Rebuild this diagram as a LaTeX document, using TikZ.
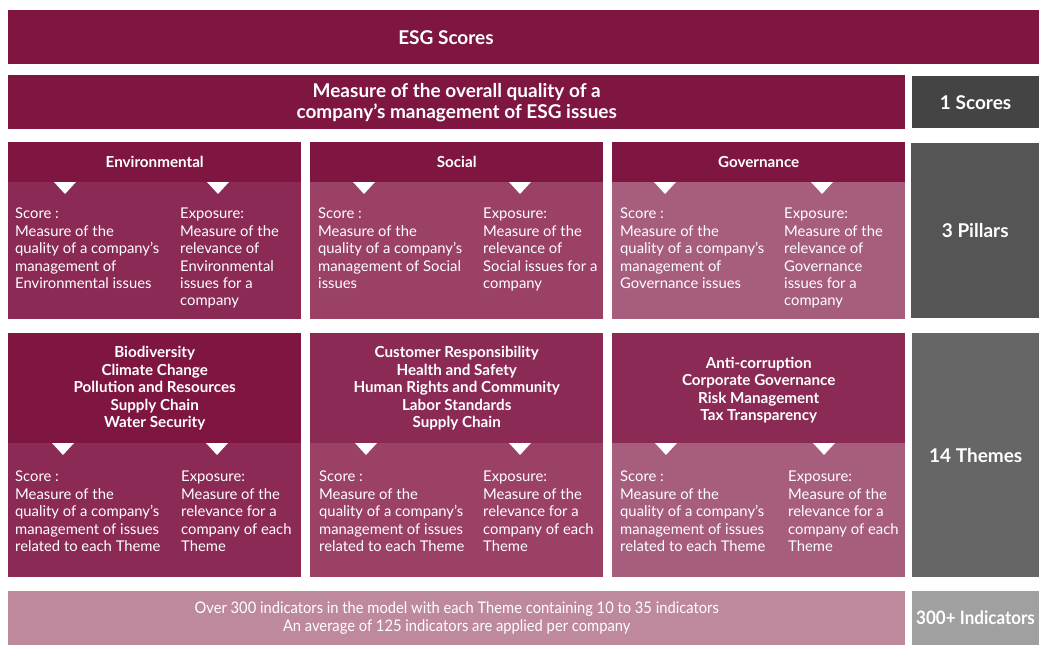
\documentclass[tikz,border=0pt]{standalone}
\usepackage{fontspec}
\setmainfont{Lato}
\newfontfamily\narrowfont[FakeStretch=0.92]{Lato}
\usetikzlibrary{positioning}
\definecolor{esgred}{HTML}{7F1642}
\definecolor{tintA}{HTML}{8B2A55}
\definecolor{tintB}{HTML}{9B4166}
\definecolor{tintC}{HTML}{A65E7C}
\definecolor{indpink}{HTML}{BF899D}
\definecolor{levelA}{HTML}{444444}
\definecolor{levelB}{HTML}{555555}
\definecolor{levelC}{HTML}{666666}
\definecolor{levelD}{HTML}{A0A0A0}
\tikzset{x=1pt, y=-1pt,
panel/.style={
rectangle,
anchor=north west,
inner sep=0pt,
text=white},
title/.style={
text=white,
align=center,
font=\fontsize{19}{21}\selectfont\bfseries},
heading/.style={
text=white,
align=center,
font=\fontsize{15.2}{17.5}\selectfont\bfseries},
body/.style={
anchor=north west,
inner sep=0pt,
text=white,
align=left,
font=\fontsize{14.8}{17.4}\selectfont},
pointer/.style={
fill=white}}

\begin{document}
\begin{tikzpicture}
\useasboundingbox (0,0) rectangle (1039,645);
% top rows
\node[panel, fill=esgred, minimum width=1031pt, minimum height=54pt] (esg) at (8,10) {};
\node[title] at (446,38) {ESG Scores};
\node[panel, fill=esgred, minimum width=897pt, minimum height=54pt] (overall) at (8,75) {};
\node[title] at (overall.center) {Measure of the overall quality of a\\company's management of ESG issues};
\node[panel, fill=levelA, minimum width=128pt, minimum height=52pt, right=6pt of overall] (scores) {};
\node[title] at (scores.center) {1 Scores};

% pillars
\node[panel, fill=tintA, minimum width=293pt, minimum height=177pt] (env) at (8,142) {};
\node[panel, fill=esgred, minimum width=293pt, minimum height=40pt] (envhead) at (8,142) {};
\node[heading] at (envhead.center) {Environmental};
\node[panel, fill=tintB, minimum width=293pt, minimum height=177pt] (soc) at (310,142) {};
\node[panel, fill=esgred, minimum width=293pt, minimum height=40pt] (sochead) at (310,142) {};
\node[heading] at (sochead.center) {Social};
\node[panel, fill=tintC, minimum width=293pt, minimum height=177pt] (gov) at (612,142) {};
\node[panel, fill=esgred, minimum width=293pt, minimum height=40pt] (govhead) at (612,142) {};
\node[heading] at (govhead.center) {Governance};
\node[panel, fill=levelB, minimum width=128pt, minimum height=175pt] (pillars) at (911,143) {};
\node[title] at (pillars.center) {3 Pillars};

\node[body] (envscore) at (15,208) {Score :\\Measure of the\\quality of a company's\\management of\\Environmental issues};
\node[body] (envexp) at (180,208) {Exposure:\\Measure of the\\relevance of\\Environmental\\issues for a\\company};
\node[body] (socscore) at (318,208) {Score :\\Measure of the\\quality of a company's\\management of Social\\issues};
\node[body] (socexp) at (483,208) {Exposure:\\Measure of the\\relevance of\\Social issues for a\\company};
\node[body] (govscore) at (620,208) {Score :\\Measure of the\\quality of a company's\\management of\\Governance issues};
\node[body] (govexp) at (784,208) {Exposure:\\Measure of the\\relevance of\\Governance\\issues for a\\company};
\foreach \x in {65,218,364,520,665,822}
  \fill[pointer] (\x-11,182) -- (\x+11,182) -- (\x,194) -- cycle;

% themes
\node[panel, fill=tintA, minimum width=293pt, minimum height=244pt] (envth) at (8,333) {};
\node[panel, fill=esgred, minimum width=293pt, minimum height=110pt] (envthhead) at (8,333) {};
\node[heading] at (envthhead.center) {Biodiversity\\Climate Change\\Pollution and Resources\\Supply Chain\\Water Security};
\node[panel, fill=tintB, minimum width=293pt, minimum height=244pt] (socth) at (310,333) {};
\node[panel, fill=tintA, minimum width=293pt, minimum height=110pt] (socthhead) at (310,333) {};
\node[heading] at (socthhead.center) {Customer Responsibility\\Health and Safety\\Human Rights and Community\\Labor Standards\\Supply Chain};
\node[panel, fill=tintC, minimum width=293pt, minimum height=244pt] (govth) at (612,333) {};
\node[panel, fill=tintA, minimum width=293pt, minimum height=110pt] (govthhead) at (612,333) {};
\node[heading] at ([yshift=-2pt]govthhead.center) {Anti-corruption\\Corporate Governance\\Risk Management\\Tax Transparency};
\node[panel, fill=levelC, minimum width=127pt, minimum height=244pt] (themes) at (912,333) {};
\node[title] at (themes.center) {14 Themes};

\node[body] (envthscore) at (15,471) {Score :\\Measure of the\\quality of a company's\\management of issues\\related to each Theme};
\node[body] (envthexp) at (181,471) {Exposure:\\Measure of the\\relevance for a\\company of each\\Theme};
\node[body] (socthscore) at (319,471) {Score :\\Measure of the\\quality of a company's\\management of issues\\related to each Theme};
\node[body] (socthexp) at (483,471) {Exposure:\\Measure of the\\relevance for a\\company of each\\Theme};
\node[body] (govthscore) at (620,471) {Score :\\Measure of the\\quality of a company's\\management of issues\\related to each Theme};
\node[body] (govthexp) at (788,471) {Exposure:\\Measure of the\\relevance for a\\company of each\\Theme};
\foreach \x in {63,217,366,520,666,824}
  \fill[pointer] (\x-11,443) -- (\x+11,443) -- (\x,455) -- cycle;

% indicators
\node[panel, fill=indpink, minimum width=897pt, minimum height=54pt] (ind) at (8,591) {};
\node[text=white, align=center, font=\narrowfont\fontsize{16}{18}\selectfont] at (ind.center) {Over 300 indicators in the model with each Theme containing 10 to 35 indicators\\An average of 125 indicators are applied per company};
\node[panel, fill=levelD, minimum width=127pt, minimum height=54pt] (indic) at (912,591) {};
\node[anchor=west, inner sep=0pt, text=white, font=\narrowfont\fontsize{18.5}{22}\selectfont\bfseries] at (916,618) {300+ Indicators};
\end{tikzpicture}
\end{document}
